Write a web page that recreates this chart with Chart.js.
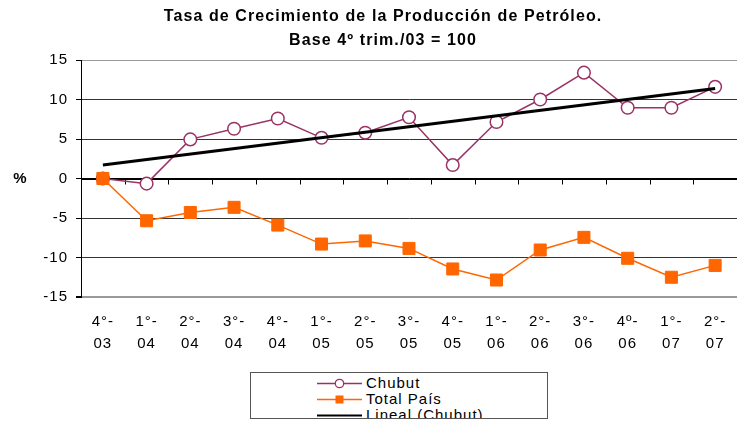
<!DOCTYPE html>
<html>
<head>
<meta charset="utf-8">
<script src="https://cdn.jsdelivr.net/npm/chart.js@4.4.0/dist/chart.umd.min.js"></script>
<style>
  html, body { margin: 0; padding: 0; background: #fff; }
  #wrap { position: relative; width: 737px; height: 422px; overflow: hidden; }
  #legend {
    position: absolute; left: 250px; top: 372px; width: 296px; height: 45px;
    border: 1px solid #555; background: #fff; overflow: hidden;
    font-family: "Liberation Sans", Arial, sans-serif; font-size: 15px; color: #000;
    letter-spacing: 1px;
  }
  .row { position: absolute; left: 66px; height: 16px; line-height: 16px; white-space: nowrap; }
  .row svg { vertical-align: top; }
  .row span { display: inline-block; margin-left: 4px; vertical-align: top; }
</style>
</head>
<body>
<div id="wrap">
  <canvas id="c" width="737" height="422"></canvas>
  <div id="legend"></div>
</div>
<script>
// ---- data ----
const categories = [
  ["4°-", "03"], ["1°-", "04"], ["2°-", "04"], ["3°-", "04"], ["4°-", "04"],
  ["1°-", "05"], ["2°-", "05"], ["3°-", "05"], ["4°-", "05"], ["1°-", "06"],
  ["2°-", "06"], ["3°-", "06"], ["4º-", "06"], ["1°-", "07"], ["2°-", "07"]
];
const chubut = [0, -0.65, 4.95, 6.3, 7.6, 5.15, 5.8, 7.75, 1.7, 7.15, 10.0, 13.4, 8.95, 8.95, 11.6];
const totalPais = [0, -5.35, -4.3, -3.65, -5.9, -8.3, -7.9, -8.85, -11.45, -12.85, -9.05, -7.45, -10.1, -12.5, -11.0];
// trend line (Lineal (Chubut)) read at its two ends
const linealChubut = [1.7, null, null, null, null, null, null, null, null, null, null, null, null, null, 11.4];
const yTicks = [-15, -10, -5, 0, 5, 10, 15];
const titleLines = ["Tasa de Crecimiento de la Producción de Petróleo.", "Base 4º trim./03 = 100"];
const seriesNames = ["Chubut", "Total País", "Lineal (Chubut)"];

const FONT = '"Liberation Sans", Arial, sans-serif';
const PLUM = '#993366';
const ORANGE = '#FF6600';

const spacingPlugin = {
  id: 'spacing',
  beforeLayout(chart) { chart.ctx.letterSpacing = '1px'; },
  beforeDraw(chart) { chart.ctx.letterSpacing = '1px'; }
};

const textPlugin = {
  id: 'texts',
  beforeDatasetsDraw(chart) {
    const x = chart.scales.x, y = chart.scales.y;
    const ctx = chart.ctx;
    const y0 = Math.round(y.getPixelForValue(0)) + 0.5;
    ctx.save();
    ctx.strokeStyle = '#000';
    ctx.lineWidth = 1;
    ctx.beginPath();
    ctx.moveTo(chart.chartArea.left, y0);
    ctx.lineTo(chart.chartArea.right, y0);
    for (let i = 1; i < categories.length; i++) {
      const bx = Math.round((x.getPixelForValue(i - 1) + x.getPixelForValue(i)) / 2) + 0.5;
      ctx.moveTo(bx, y0);
      ctx.lineTo(bx, y0 + 5);
    }
    ctx.stroke();
    ctx.restore();
  },
  afterDraw(chart) {
    const y = chart.scales.y;
    const ctx = chart.ctx;
    ctx.save();
    ctx.fillStyle = '#000';
    ctx.textAlign = 'center';
    ctx.textBaseline = 'middle';
    ctx.letterSpacing = '1.1px';
    ctx.font = 'bold 16px ' + FONT;
    ctx.fillText(titleLines[0], 383, 17);
    ctx.fillText(titleLines[1], 383, 41);
    ctx.letterSpacing = '0px';
    ctx.font = 'bold 15px ' + FONT;
    ctx.fillText('%', 20, y.getPixelForValue(0));
    ctx.restore();
  }
};

new Chart(document.getElementById('c'), {
  type: 'line',
  data: {
    labels: categories,
    datasets: [
      {
        label: seriesNames[2], data: linealChubut, spanGaps: true,
        borderColor: '#000', borderWidth: 3, pointRadius: 0, order: 0, tension: 0
      },
      {
        label: seriesNames[1], data: totalPais,
        borderColor: ORANGE, borderWidth: 1.5, backgroundColor: ORANGE,
        pointStyle: 'rect', pointRadius: 8.5, pointBorderColor: ORANGE, pointBackgroundColor: ORANGE,
        pointBorderWidth: 1, order: 1
      },
      {
        label: seriesNames[0], data: chubut,
        borderColor: PLUM, borderWidth: 1.5,
        pointStyle: 'circle', pointRadius: 6.3, pointBorderColor: PLUM, pointBackgroundColor: '#fff',
        pointBorderWidth: 1.5, order: 2
      }
    ]
  },
  options: {
    responsive: false,
    animation: false,
    devicePixelRatio: 1,
    layout: { autoPadding: false, padding: { left: 0, right: 0, top: 60, bottom: 65 } },
    plugins: {
      legend: { display: false },
      tooltip: { enabled: false },
      title: { display: false }
    },
    scales: {
      x: {
        type: 'category', offset: true,
        border: { display: false },
        grid: { display: false, drawTicks: false },
        ticks: {
          color: '#000', padding: 14, maxRotation: 0, autoSkip: false,
          font: { family: FONT, size: 15, lineHeight: 22 / 15 }
        },
        afterFit(s) { s.height = 60; s.paddingLeft = 0; s.paddingRight = 0; }
      },
      y: {
        min: -15, max: 15,
        afterBuildTicks(s) { s.ticks = yTicks.map(v => ({ value: v })); },
        border: { display: true, color: '#000', width: 1 },
        grid: {
          color: c => (c.tick && Math.abs(c.tick.value) === 15) ? '#999' : (c.tick && c.tick.value === 0 ? '#000' : '#333'),
          lineWidth: c => (c.tick && c.tick.value === -15) ? 2 : 1,
          tickColor: '#000', tickLength: 5, drawTicks: true
        },
        ticks: { color: '#000', padding: 8, font: { family: FONT, size: 15 } },
        afterFit(s) { s.width = 81; s.paddingTop = 0; s.paddingBottom = 0; }
      }
    }
  },
  plugins: [spacingPlugin, textPlugin]
});

// ---- HTML legend ----
const legend = document.getElementById('legend');
const markers = [
  `<svg width="45" height="16"><line x1="0" y1="8.5" x2="45" y2="8.5" stroke="${PLUM}" stroke-width="1.5"/><circle cx="22.5" cy="8.5" r="4.2" fill="#fff" stroke="${PLUM}" stroke-width="1.3"/></svg>`,
  `<svg width="45" height="16"><line x1="0" y1="8.5" x2="45" y2="8.5" stroke="${ORANGE}" stroke-width="1.5"/><rect x="18.5" y="4.5" width="8" height="8" fill="${ORANGE}"/></svg>`,
  `<svg width="45" height="16"><line x1="0" y1="8.5" x2="45" y2="8.5" stroke="#000" stroke-width="2"/></svg>`
];
seriesNames.forEach((n, i) => {
  const r = document.createElement('div');
  r.className = 'row';
  r.style.top = (2 + i * 16) + 'px';
  r.innerHTML = markers[i] + '<span>' + n + '</span>';
  legend.appendChild(r);
});
</script>
</body>
</html>
